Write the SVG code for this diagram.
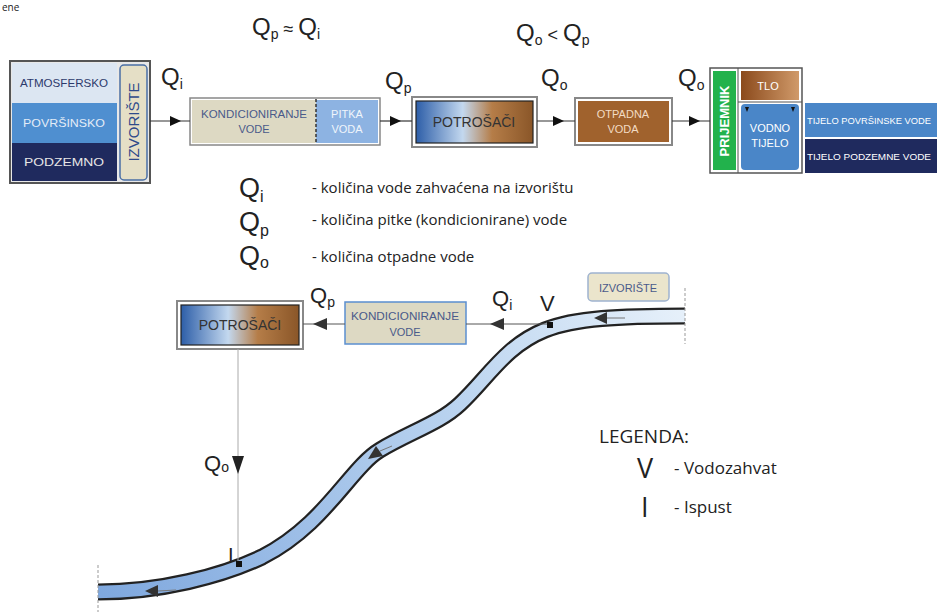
<svg xmlns="http://www.w3.org/2000/svg" width="937" height="613" viewBox="0 0 937 613">
<style>
.q{font-family:"Liberation Sans",Arial,sans-serif;font-size:24px;fill:#222}
.qs{font-size:14px}
.bx{font-family:"Liberation Sans",Arial,sans-serif;font-size:11px;text-anchor:middle}
.lg{font-family:"Open Sans","Liberation Sans",sans-serif;font-size:15px;fill:#222}
.conn{stroke:#333;stroke-width:1.2;fill:none}
</style>
<defs>
<marker id="ah" markerUnits="userSpaceOnUse" markerWidth="12" markerHeight="10" refX="11" refY="5" orient="auto"><path d="M0,0 L11,5 L0,10 z" fill="#111"/></marker>
<marker id="ah2" markerUnits="userSpaceOnUse" markerWidth="15" markerHeight="12" refX="14" refY="6" orient="auto"><path d="M0,0 L14,6 L0,12 z" fill="#333"/></marker>
<linearGradient id="potr" x1="0" y1="0" x2="1" y2="0">
<stop offset="0" stop-color="#2d5ea8"/><stop offset="0.4" stop-color="#c3d8ef"/><stop offset="0.65" stop-color="#b57d48"/><stop offset="1" stop-color="#8a5628"/>
</linearGradient>
<linearGradient id="tlo" x1="0" y1="0" x2="1" y2="0">
<stop offset="0" stop-color="#8b4a1c"/><stop offset="1" stop-color="#d09a6a"/>
</linearGradient>
<linearGradient id="river" gradientUnits="userSpaceOnUse" x1="100" y1="590" x2="685" y2="316">
<stop offset="0" stop-color="#7fa8de"/><stop offset="0.6" stop-color="#b8d2ef"/><stop offset="1" stop-color="#e6f0fa"/>
</linearGradient>
</defs>

<text x="2" y="11" class="lg" style="font-size:10px">ene</text>

<text x="252" y="35" class="q">Q<tspan class="qs" dy="4">p</tspan><tspan dy="-4" style="font-size:18px"> ≈ </tspan>Q<tspan class="qs" dy="4">i</tspan></text>
<text x="516" y="41" class="q">Q<tspan class="qs" dy="4">o</tspan><tspan dy="-4" style="font-size:18px"> &lt; </tspan>Q<tspan class="qs" dy="4">p</tspan></text>

<g id="izvoriste-top">
<rect x="10" y="61" width="140" height="122" fill="#e8e8e8" stroke="#555" stroke-width="2"/>
<rect x="12" y="63" width="105" height="40" fill="#dce6f2"/>
<rect x="12" y="103" width="105" height="40" fill="#4f8fd0"/>
<rect x="12" y="143" width="105" height="38" fill="#1f2a5e"/>
<text x="64" y="87" class="bx" fill="#2d3a6b" textLength="88" lengthAdjust="spacingAndGlyphs">ATMOSFERSKO</text>
<text x="64" y="127" class="bx" fill="#e3ecf7" textLength="82" lengthAdjust="spacingAndGlyphs">POVRŠINSKO</text>
<text x="64" y="166" class="bx" fill="#e6e6e6" textLength="80" lengthAdjust="spacingAndGlyphs">PODZEMNO</text>
<rect x="120" y="65" width="27" height="115" rx="4" fill="#e5dfc6" stroke="#4a6fa5" stroke-width="1.5"/>
<text transform="translate(139,122) rotate(-90)" class="bx" style="font-size:15px" fill="#2e4a8a">IZVORIŠTE</text>
</g>

<g id="kondicioniranje-top">
<rect x="190" y="98" width="190" height="47" fill="#fff" stroke="#888" stroke-width="1.5"/>
<rect x="192" y="100" width="124" height="43" fill="#ddd9c3"/>
<rect x="316" y="100" width="62" height="43" fill="#8db3e2"/>
<line x1="316" y1="99" x2="316" y2="144" stroke="#333" stroke-width="1.5" stroke-dasharray="3,2"/>
<text x="254" y="118" class="bx" fill="#4a5a8a" textLength="106" lengthAdjust="spacingAndGlyphs">KONDICIONIRANJE</text>
<text x="254" y="133" class="bx" fill="#4a5a8a">VODE</text>
<text x="347" y="118" class="bx" fill="#f0f5fb">PITKA</text>
<text x="347" y="133" class="bx" fill="#f0f5fb">VODA</text>
</g>

<g id="potrosaci-top">
<rect x="412" y="97" width="125" height="50" fill="#fff" stroke="#888" stroke-width="2"/>
<rect x="416" y="101" width="117" height="42" fill="url(#potr)" stroke="#222" stroke-width="1.2"/>
<text x="474" y="127" class="bx" style="font-size:14px" fill="#333">POTROŠAČI</text>
</g>

<g id="otpadna-voda">
<rect x="575" y="98" width="97" height="47" fill="#fff" stroke="#888" stroke-width="2"/>
<rect x="578" y="101" width="91" height="41" fill="#a0622d"/>
<text x="623" y="118" class="bx" fill="#f3dcc4">OTPADNA</text>
<text x="623" y="133" class="bx" fill="#f3dcc4">VODA</text>
</g>

<g id="prijemnik">
<rect x="710" y="68" width="92" height="105" fill="#fff" stroke="#555" stroke-width="1.5"/>
<line x1="738" y1="68" x2="738" y2="173" stroke="#555" stroke-width="1"/>
<line x1="738" y1="102" x2="802" y2="102" stroke="#555" stroke-width="1"/>
<rect x="713" y="71" width="23" height="99" fill="#22b24c"/>
<text transform="translate(729,121) rotate(-90)" class="bx" style="font-size:13px;font-weight:bold" fill="#fff">PRIJEMNIK</text>
<rect x="741" y="71" width="58" height="29" fill="url(#tlo)"/>
<text x="768" y="90" class="bx" fill="#fff">TLO</text>
<rect x="741" y="104" width="58" height="66" rx="4" fill="#4a86c8"/>
<path d="M745,107 l4,0 l-2,5 z M791,107 l4,0 l-2,5 z" fill="#111"/>
<text x="770" y="132" class="bx" fill="#fff">VODNO</text>
<text x="770" y="147" class="bx" fill="#fff">TIJELO</text>
<rect x="805" y="103" width="132" height="34" fill="#4a86c8"/>
<rect x="805" y="139" width="132" height="34" fill="#1f2a5e"/>
<text x="807" y="124" class="bx" fill="#fff" style="text-anchor:start;font-size:9.5px" textLength="124" lengthAdjust="spacingAndGlyphs">TIJELO POVRŠINSKE VODE</text>
<text x="807" y="160" class="bx" fill="#fff" style="text-anchor:start;font-size:9.5px" textLength="124" lengthAdjust="spacingAndGlyphs">TIJELO PODZEMNE VODE</text>
</g>

<g id="top-labels">
<text x="161" y="85" class="q">Q<tspan class="qs" dy="4">i</tspan></text>
<text x="385" y="89" class="q">Q<tspan class="qs" dy="4">p</tspan></text>
<text x="541" y="86" class="q">Q<tspan class="qs" dy="4">o</tspan></text>
<text x="678" y="86" class="q">Q<tspan class="qs" dy="4">o</tspan></text>
</g>

<g id="legend-q">
<text x="239" y="197" class="q" style="font-size:27px">Q<tspan class="qs" dy="5" style="font-size:16px">i</tspan></text>
<text x="239" y="231" class="q" style="font-size:27px">Q<tspan class="qs" dy="5" style="font-size:16px">p</tspan></text>
<text x="239" y="265" class="q" style="font-size:27px">Q<tspan class="qs" dy="3" style="font-size:16px">o</tspan></text>
<text x="312" y="193" class="lg">- količina vode zahvaćena na izvorištu</text>
<text x="312" y="225" class="lg">- količina pitke (kondicionirane) vode</text>
<text x="312" y="262" class="lg">- količina otpadne vode</text>
</g>

<g id="river">
<path d="M685,316 C620,316 575,318 545,330 C505,346 488,378 460,404 C440,423 410,432 380,450 C350,468 325,525 262,557 C222,576 160,592 98,592" fill="none" stroke="#222" stroke-width="17"/>
<path d="M685,316 C620,316 575,318 545,330 C505,346 488,378 460,404 C440,423 410,432 380,450 C350,468 325,525 262,557 C222,576 160,592 98,592" fill="none" stroke="url(#river)" stroke-width="12.5"/>
<line x1="607" y1="318" x2="625" y2="318" stroke="#777" stroke-width="1"/>
<polygon points="594,318 607,312 607,324" fill="#333"/>
<line x1="380" y1="451" x2="392" y2="446" stroke="#777" stroke-width="1"/>
<polygon points="368,459 383,456 376,446" fill="#333"/>
<line x1="158" y1="591" x2="176" y2="590" stroke="#777" stroke-width="1"/>
<polygon points="145,591 158,585 158,597" fill="#333"/>
<line x1="685" y1="288" x2="685" y2="344" stroke="#999" stroke-width="1" stroke-dasharray="3,2"/>
<line x1="98" y1="565" x2="98" y2="612" stroke="#999" stroke-width="1" stroke-dasharray="3,2"/>
</g>

<g id="izvoriste-bottom">
<rect x="588" y="273" width="81" height="28" rx="4" fill="#ebe5cc" stroke="#9fb3cf" stroke-width="1.5"/>
<text x="628" y="292" class="bx" fill="#4a5a8a">IZVORIŠTE</text>
</g>

<g id="kondicioniranje-bottom">
<rect x="345" y="302" width="121" height="42" fill="#ddd9c3" stroke="#5b8fd0" stroke-width="1.5"/>
<text x="405" y="320" class="bx" fill="#4a5a8a" textLength="108" lengthAdjust="spacingAndGlyphs">KONDICIONIRANJE</text>
<text x="405" y="336" class="bx" fill="#4a5a8a">VODE</text>
</g>

<g id="potrosaci-bottom">
<rect x="177" y="301" width="126" height="48" fill="#fff" stroke="#888" stroke-width="2"/>
<rect x="181" y="305" width="118" height="40" fill="url(#potr)" stroke="#222" stroke-width="1.2"/>
<text x="240" y="330" class="bx" style="font-size:14px" fill="#333">POTROŠAČI</text>
</g>

<g id="connectors">
<path class="conn" d="M150,121 L181,121 L190,121" marker-mid="url(#ah)"/>
<path class="conn" d="M380,121 L401,121 L412,121" marker-mid="url(#ah)"/>
<path class="conn" d="M537,121 L564,121 L575,121" marker-mid="url(#ah)"/>
<path class="conn" d="M672,121 L700,121 L710,121" marker-mid="url(#ah)"/>
<path d="M550,324 L490,324 L466,324" stroke="#555" stroke-width="1" fill="none" marker-mid="url(#ah2)"/>
<path d="M345,324 L313,324 L303,324" stroke="#555" stroke-width="1" fill="none" marker-mid="url(#ah2)"/>
<path d="M238,349 L238,474 L238,564" stroke="#aaa" stroke-width="1" fill="none"/>
<polygon points="238,474 232,456 244,456" fill="#222"/>
</g>

<g id="points">
<rect x="547" y="322" width="6" height="6" fill="#111"/>
<rect x="236" y="561" width="6" height="6" fill="#111"/>
<text x="540" y="311" class="q" style="font-size:22px">V</text>
<text x="228" y="562" class="q" style="font-size:20px">I</text>
<text x="310" y="303" class="q" style="font-size:22px">Q<tspan class="qs" dy="4">p</tspan></text>
<text x="492" y="306" class="q" style="font-size:22px">Q<tspan class="qs" dy="4">i</tspan></text>
<text x="204" y="471" class="q" style="font-size:22px">Q<tspan class="qs" dy="1">o</tspan></text>
</g>

<g id="legenda">
<text x="599" y="443" class="lg" style="font-size:19px">LEGENDA:</text>
<text x="637" y="478" class="lg" style="font-size:27px">V</text>
<text x="674" y="474" class="lg" style="font-size:17px">- Vodozahvat</text>
<text x="641" y="517" class="lg" style="font-size:27px">I</text>
<text x="674" y="513" class="lg" style="font-size:17px">- Ispust</text>
</g>
</svg>
